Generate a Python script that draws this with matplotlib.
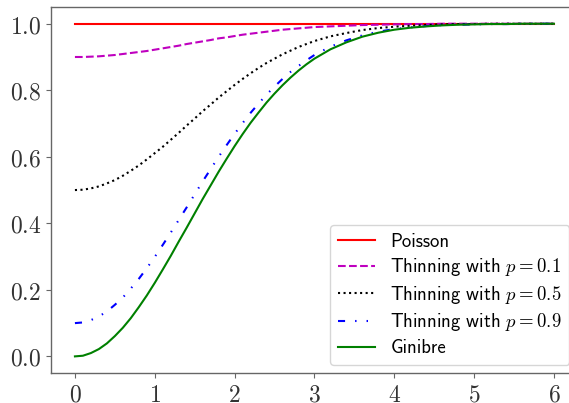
import matplotlib
matplotlib.use("Agg")
import matplotlib.pyplot as plt
from matplotlib.ticker import FuncFormatter

plt.rcParams['mathtext.fontset'] = 'cm'

# distance r (finer where curves bend most)
r = [0.0, 0.1, 0.2, 0.3, 0.4, 0.5, 0.6, 0.7, 0.8, 0.9, 1.0,
     1.1, 1.2, 1.3, 1.4, 1.5, 1.6, 1.7, 1.8, 1.9, 2.0,
     2.1, 2.2, 2.3, 2.4, 2.5, 2.6, 2.7, 2.8, 2.9, 3.0,
     3.2, 3.4, 3.6, 3.8, 4.0, 4.2, 4.4, 4.6, 4.8, 5.0,
     5.2, 5.4, 5.6, 5.8, 6.0]

poisson = [1.0] * len(r)

thin_01 = [0.900, 0.900, 0.901, 0.902, 0.904, 0.906, 0.909, 0.912, 0.915, 0.918, 0.922,
           0.926, 0.930, 0.934, 0.939, 0.943, 0.947, 0.951, 0.956, 0.959, 0.963,
           0.967, 0.970, 0.973, 0.976, 0.979, 0.982, 0.984, 0.986, 0.988, 0.990,
           0.992, 0.994, 0.996, 0.997, 0.998, 0.999, 0.999, 1.000, 1.000, 1.000,
           1.000, 1.000, 1.000, 1.000, 1.000]

thin_05 = [0.500, 0.501, 0.505, 0.511, 0.520, 0.530, 0.543, 0.558, 0.574, 0.592, 0.611,
           0.630, 0.651, 0.672, 0.694, 0.715, 0.737, 0.757, 0.778, 0.797, 0.816,
           0.834, 0.851, 0.867, 0.882, 0.895, 0.908, 0.919, 0.930, 0.939, 0.948,
           0.962, 0.972, 0.981, 0.987, 0.991, 0.994, 0.996, 0.998, 0.999, 0.999,
           1.000, 1.000, 1.000, 1.000, 1.000]

thin_09 = [0.100, 0.102, 0.109, 0.120, 0.135, 0.155, 0.177, 0.204, 0.233, 0.265, 0.299,
           0.335, 0.372, 0.410, 0.448, 0.487, 0.526, 0.563, 0.600, 0.635, 0.669,
           0.701, 0.732, 0.760, 0.787, 0.811, 0.834, 0.855, 0.873, 0.890, 0.906,
           0.931, 0.950, 0.965, 0.976, 0.984, 0.989, 0.993, 0.996, 0.997, 0.998,
           0.999, 0.999, 1.000, 1.000, 1.000]

ginibre = [0.000, 0.002, 0.010, 0.022, 0.039, 0.061, 0.086, 0.115, 0.148, 0.183, 0.221,
           0.261, 0.302, 0.345, 0.387, 0.430, 0.473, 0.514, 0.555, 0.594, 0.632,
           0.668, 0.702, 0.733, 0.763, 0.790, 0.815, 0.838, 0.859, 0.878, 0.895,
           0.923, 0.944, 0.961, 0.973, 0.982, 0.988, 0.992, 0.995, 0.997, 0.998,
           0.999, 0.999, 1.000, 1.000, 1.000]

fig = plt.figure(figsize=(5.69, 4.03), dpi=100)
ax = fig.add_axes([0.0896, 0.0744, 0.926, 0.908])

lw = 1.5
ax.plot(r, poisson, color='r', lw=lw, label='Poisson')
ax.plot(r, thin_01, color='m', lw=lw, ls='--', label=r'Thinning with $p=0.1$')
ax.plot(r, thin_05, color='k', lw=lw, ls=':', label=r'Thinning with $p=0.5$')
ax.plot(r, thin_09, color='b', lw=lw, ls=(0, (3.4, 4.8, 0.7, 4.8, 0.7, 4.8)),
        label=r'Thinning with $p=0.9$')
ax.plot(r, ginibre, color='g', lw=lw, label='Ginibre')

ax.set_xlim(-0.3, 6.3)
ax.set_ylim(-0.05, 1.05)
ax.set_xticks([0, 1, 2, 3, 4, 5, 6])
ax.set_yticks([0.0, 0.2, 0.4, 0.6, 0.8, 1.0])
ax.xaxis.set_major_formatter(FuncFormatter(lambda v, p: r'$%d$' % round(v)))
ax.yaxis.set_major_formatter(FuncFormatter(lambda v, p: r'$%.1f$' % v))

for s in ax.spines.values():
    s.set_color('0.4')
    s.set_linewidth(1.0)
ax.tick_params(colors='0.4', labelcolor='0.2', labelsize=17)

ax.legend(loc='lower right', prop={'family': 'cmss10', 'size': 13.5},
          labelspacing=0.3, borderaxespad=0.45, framealpha=0.8, edgecolor='0.8')

fig.savefig('out.png', dpi=100)
